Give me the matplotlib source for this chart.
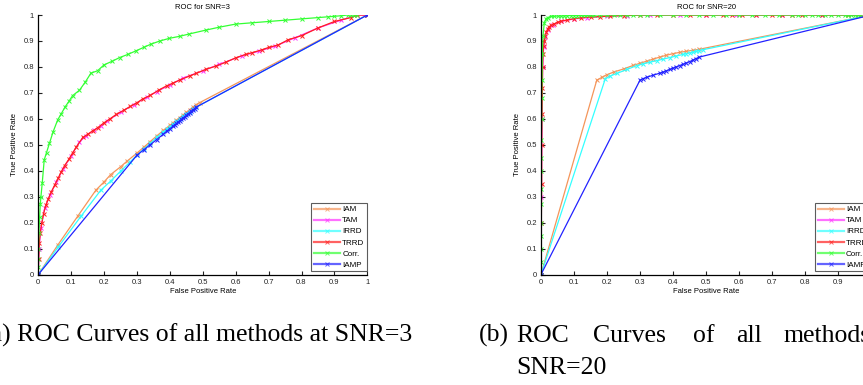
import matplotlib.pyplot as plt

# ROC data (x = false positive rate, y = true positive rate)
methods = ["IAM", "TAM", "IRRD", "TRRD", "Corr.", "IAMP"]
colors = ["#F4955A", "#FF33FF", "#33FFFF", "#FF2020", "#33FF33", "#2222FF"]
tick_vals = [0, 0.1, 0.2, 0.3, 0.4, 0.5, 0.6, 0.7, 0.8, 0.9, 1.0]
tick_labels = ["0", "0.1", "0.2", "0.3", "0.4", "0.5", "0.6", "0.7", "0.8", "0.9", "1"]

# SNR = 3
iam3_fpr = [0, 0.06, 0.12, 0.175, 0.2, 0.22, 0.25, 0.27, 0.3, 0.32, 0.34, 0.36, 0.38, 0.4, 0.41, 0.42,
            0.43, 0.44, 0.45, 0.46, 0.47, 0.48, 0.49, 1.0]
iam3_tpr = [0, 0.115, 0.225, 0.325, 0.357, 0.385, 0.415, 0.437, 0.468, 0.49, 0.512, 0.534, 0.555, 0.575,
            0.585, 0.595, 0.605, 0.615, 0.625, 0.635, 0.645, 0.655, 0.662, 1.0]
tam3_fpr = [0, 0.002, 0.008, 0.02, 0.035, 0.055, 0.075, 0.1, 0.125, 0.145, 0.17, 0.19, 0.21, 0.25, 0.29,
            0.33, 0.36, 0.4, 0.44, 0.5, 0.55, 0.62, 0.67, 0.72, 0.78, 0.85, 0.92, 0.97, 1.0]
tam3_tpr = [0, 0.1, 0.18, 0.258, 0.305, 0.357, 0.405, 0.458, 0.51, 0.535, 0.557, 0.572, 0.592, 0.625,
            0.655, 0.683, 0.705, 0.73, 0.757, 0.785, 0.81, 0.843, 0.86, 0.88, 0.912, 0.95, 0.98, 1.0, 1.0]
irrd3_fpr = [0, 0.06, 0.13, 0.19, 0.22, 0.25, 0.28, 0.3, 0.32, 0.34, 0.36, 0.38, 0.39, 0.4, 0.41, 0.42,
             0.43, 0.44, 0.45, 0.46, 0.47, 0.48, 1.0]
irrd3_tpr = [0, 0.105, 0.225, 0.325, 0.36, 0.398, 0.435, 0.46, 0.483, 0.505, 0.528, 0.55, 0.56, 0.57,
             0.58, 0.59, 0.6, 0.61, 0.62, 0.628, 0.636, 0.645, 1.0]
trrd3_fpr = [0, 0.001, 0.003, 0.006, 0.011, 0.016, 0.023, 0.03, 0.039, 0.05, 0.06, 0.069, 0.08, 0.094,
             0.105, 0.115, 0.135, 0.15, 0.166, 0.18, 0.2, 0.218, 0.237, 0.26, 0.28, 0.3, 0.318, 0.34,
             0.368, 0.39, 0.41, 0.431, 0.46, 0.48, 0.51, 0.54, 0.57, 0.6, 0.63, 0.65, 0.68, 0.7, 0.73,
             0.76, 0.8, 0.85, 0.9, 0.95, 0.97, 1.0]
trrd3_tpr = [0, 0.06, 0.123, 0.16, 0.2, 0.235, 0.266, 0.29, 0.317, 0.345, 0.37, 0.394, 0.42, 0.446,
             0.47, 0.49, 0.528, 0.54, 0.554, 0.565, 0.585, 0.6, 0.617, 0.633, 0.648, 0.662, 0.677, 0.69,
             0.712, 0.727, 0.738, 0.75, 0.765, 0.775, 0.791, 0.803, 0.818, 0.835, 0.848, 0.855, 0.866,
             0.875, 0.885, 0.905, 0.92, 0.95, 0.975, 0.99, 1.0, 1.0]
corr3_fpr = [0, 0, 0, 0, 0.002, 0.004, 0.006, 0.008, 0.012, 0.018, 0.025, 0.034, 0.045, 0.059, 0.07,
             0.082, 0.093, 0.104, 0.125, 0.142, 0.16, 0.18, 0.2, 0.225, 0.247, 0.272, 0.297, 0.32,
             0.343, 0.37, 0.398, 0.43, 0.459, 0.51, 0.55, 0.6, 0.65, 0.7, 0.75, 0.8, 0.85, 0.88, 0.9,
             0.92, 0.94, 0.95, 0.96, 0.97]
corr3_tpr = [0, 0.03, 0.06, 0.1, 0.16, 0.22, 0.27, 0.3, 0.353, 0.442, 0.47, 0.506, 0.55, 0.596, 0.62,
             0.647, 0.667, 0.689, 0.71, 0.74, 0.776, 0.785, 0.808, 0.822, 0.836, 0.848, 0.862, 0.875,
             0.888, 0.9, 0.91, 0.918, 0.927, 0.942, 0.953, 0.965, 0.97, 0.975, 0.98, 0.985, 0.99,
             0.993, 0.995, 0.997, 1.0, 1.0, 1.0, 1.0]
iamp3_fpr = [0, 0.3, 0.32, 0.34, 0.36, 0.38, 0.39, 0.4, 0.41, 0.415, 0.42, 0.425, 0.43, 0.435, 0.44,
             0.445, 0.45, 0.455, 0.46, 0.465, 0.47, 0.475, 0.48, 1.0]
iamp3_tpr = [0, 0.46, 0.48, 0.5, 0.52, 0.541, 0.552, 0.562, 0.572, 0.577, 0.582, 0.587, 0.592, 0.598,
             0.603, 0.608, 0.613, 0.618, 0.624, 0.629, 0.634, 0.639, 0.645, 1.0]

# SNR = 20
iam20_fpr = [0, 0.169, 0.185, 0.2, 0.22, 0.25, 0.28, 0.3, 0.32, 0.34, 0.36, 0.38, 0.4, 0.42, 0.44,
             0.46, 0.48, 1.0]
iam20_tpr = [0, 0.749, 0.76, 0.77, 0.78, 0.792, 0.806, 0.814, 0.822, 0.83, 0.838, 0.845, 0.851, 0.856,
             0.86, 0.864, 0.868, 1.0]
tam20_fpr = [0, 0.001, 0.003, 0.005, 0.008, 0.012, 0.02, 0.035, 0.06, 0.1, 0.14, 0.2, 0.26, 0.33,
             0.42, 0.5, 0.59, 0.65, 0.73, 0.85, 0.97]
tam20_tpr = [0, 0.3, 0.6, 0.8, 0.875, 0.915, 0.942, 0.962, 0.975, 0.985, 0.99, 0.995, 0.998, 1.0, 1.0,
             1.0, 1.0, 1.0, 1.0, 1.0, 1.0]
irrd20_fpr = [0, 0.195, 0.21, 0.23, 0.26, 0.29, 0.31, 0.33, 0.35, 0.37, 0.39, 0.41, 0.43, 0.44, 0.45,
              0.46, 0.47, 0.48, 0.49, 1.0]
irrd20_tpr = [0, 0.755, 0.765, 0.775, 0.79, 0.805, 0.812, 0.818, 0.824, 0.83, 0.836, 0.842, 0.848,
              0.851, 0.854, 0.857, 0.86, 0.863, 0.866, 1.0]
trrd20_fpr = [0, 0.001, 0.002, 0.002, 0.003, 0.004, 0.005, 0.006, 0.008, 0.01, 0.013, 0.016, 0.02,
              0.025, 0.03, 0.04, 0.05, 0.06, 0.08, 0.1, 0.12, 0.15, 0.18, 0.21, 0.25, 0.3, 0.35, 0.4,
              0.45, 0.5, 0.55, 0.58, 0.61, 0.65, 0.7, 0.73, 0.76, 0.79, 0.85, 0.93, 0.97]
trrd20_tpr = [0, 0.2, 0.35, 0.5, 0.62, 0.72, 0.8, 0.85, 0.88, 0.9, 0.92, 0.935, 0.945, 0.955, 0.96,
              0.966, 0.972, 0.976, 0.981, 0.986, 0.989, 0.992, 0.994, 0.996, 0.998, 1.0, 1.0, 1.0,
              1.0, 1.0, 1.0, 1.0, 1.0, 1.0, 1.0, 1.0, 1.0, 1.0, 1.0, 1.0, 1.0]
corr20_fpr = [0, 0, 0, 0, 0, 0, 0, 0, 0.001, 0.001, 0.002, 0.002, 0.003, 0.004, 0.006, 0.01, 0.015,
              0.02, 0.03, 0.04, 0.05, 0.06, 0.07, 0.08, 0.09, 0.1, 0.11, 0.12, 0.13, 0.14, 0.15, 0.16,
              0.18, 0.2, 0.22, 0.24, 0.26, 0.28, 0.3, 0.32, 0.36, 0.4, 0.44, 0.48, 0.52, 0.56, 0.6,
              0.64, 0.68, 0.72, 0.76, 0.78, 0.8, 0.82, 0.84, 0.86, 0.88, 0.9, 0.92, 0.93, 0.94,
              0.95, 0.96, 0.97]
corr20_tpr = [0, 0.05, 0.1, 0.15, 0.2, 0.27, 0.33, 0.4, 0.45, 0.52, 0.6, 0.68, 0.75, 0.85, 0.92, 0.97,
              0.985, 0.99, 0.995, 0.995, 0.996, 0.996, 0.997, 0.997, 0.998, 0.998, 0.998, 0.999,
              0.999, 0.999, 0.999, 1.0, 1.0, 1.0, 1.0, 1.0, 1.0, 1.0, 1.0, 1.0, 1.0, 1.0, 1.0, 1.0,
              1.0, 1.0, 1.0, 1.0, 1.0, 1.0, 1.0, 1.0, 1.0, 1.0, 1.0, 1.0, 1.0, 1.0, 1.0, 1.0, 1.0,
              1.0, 1.0, 1.0]
iamp20_fpr = [0, 0.3, 0.31, 0.32, 0.34, 0.36, 0.37, 0.38, 0.39, 0.4, 0.41, 0.42, 0.43, 0.44, 0.45,
              0.46, 0.47, 0.48, 1.0]
iamp20_tpr = [0, 0.749, 0.755, 0.76, 0.768, 0.776, 0.78, 0.785, 0.79, 0.795, 0.8, 0.805, 0.81, 0.815,
              0.82, 0.826, 0.832, 0.838, 1.0]

panels = [
    ("ROC for SNR=3",
     [(iam3_fpr, iam3_tpr), (tam3_fpr, tam3_tpr), (irrd3_fpr, irrd3_tpr),
      (trrd3_fpr, trrd3_tpr), (corr3_fpr, corr3_tpr), (iamp3_fpr, iamp3_tpr)]),
    ("ROC for SNR=20",
     [(iam20_fpr, iam20_tpr), (tam20_fpr, tam20_tpr), (irrd20_fpr, irrd20_tpr),
      (trrd20_fpr, trrd20_tpr), (corr20_fpr, corr20_tpr), (iamp20_fpr, iamp20_tpr)]),
]

plt.rcParams["font.family"] = ["Liberation Sans", "DejaVu Sans"]
W, H = 863, 385
fig = plt.figure(figsize=(W / 100, H / 100), dpi=100)

# axes boxes in pixels: (x0, x1, ytop, ybottom); the right panel runs past the image edge
boxes = [(38.3, 367.3, 15, 274.5), (541, 871, 15, 274.5)]

for (title, curves), (x0, x1, yt, yb) in zip(panels, boxes):
    ax = fig.add_axes([x0 / W, (H - yb) / H, (x1 - x0) / W, (yb - yt) / H])
    for name, col, (fx, ty) in zip(methods, colors, curves):
        ax.plot(fx, ty, color=col, lw=0.9, marker="x", ms=3.2, mew=0.7, label=name)
    ax.set_xlim(0, 1)
    ax.set_ylim(0, 1)
    ax.set_xticks(tick_vals)
    ax.set_xticklabels(tick_labels)
    ax.set_yticks(tick_vals)
    ax.set_yticklabels(tick_labels)
    ax.spines["top"].set_visible(False)
    ax.spines["right"].set_visible(False)
    for s in ("left", "bottom"):
        ax.spines[s].set_linewidth(0.9)
    ax.tick_params(direction="in", length=3, width=0.8, labelsize=5.5, pad=3, colors="#222222")
    ax.set_title(title, fontsize=5.5, pad=4)
    ax.set_xlabel("False Positive Rate", fontsize=5.5, labelpad=2)
    ax.set_ylabel("True Positive Rate", fontsize=5.5, labelpad=4)
    leg = ax.legend(loc="lower right", bbox_to_anchor=(1.0, 0.012), fontsize=5.8, frameon=True,
                    fancybox=False, edgecolor="#333333", handlelength=3.2, handletextpad=0.3,
                    labelspacing=0.42, borderpad=0.35, borderaxespad=0)
    leg.get_frame().set_linewidth(0.8)
    for ln in leg.get_lines():
        ln.set_linewidth(1.6)
        ln.set_alpha(0.7)

# captions (the second one is justified and runs off the right edge, as in the source)
cap_font = dict(family=["Liberation Serif", "DejaVu Serif"], fontsize=18.5, va="baseline")
fig.text(412 / W, (H - 342) / H, "(a) ROC Curves of all methods at SNR=3", ha="right", **cap_font)
cap_b_words = ["(b)", "ROC", "Curves", "of", "all", "methods"]
cap_b_x = [479, 516, 593, 693, 736, 783]
for wtxt, wx in zip(cap_b_words, cap_b_x):
    fig.text(wx / W, (H - 342) / H, wtxt, ha="left", **cap_font)
fig.text(516 / W, (H - 374) / H, "SNR=20", ha="left", **cap_font)

fig.savefig("out.png", dpi=100)
